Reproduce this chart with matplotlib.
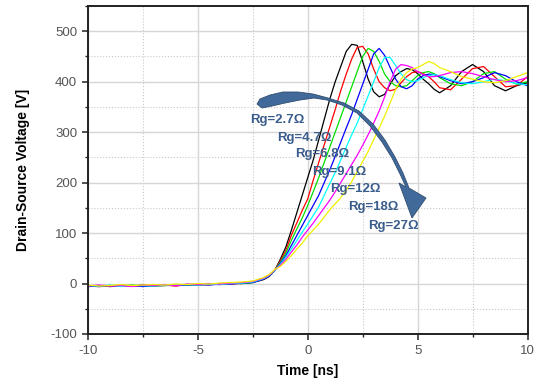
import matplotlib
matplotlib.use("Agg")
import matplotlib.pyplot as plt
from matplotlib.patches import Polygon
from matplotlib.ticker import MultipleLocator

plt.rcParams['font.family'] = ['Liberation Sans', 'DejaVu Sans']
plt.rcParams['axes.unicode_minus'] = False

# time axis [ns]
time_ns = [-10, -9.5, -9, -8.5, -8, -7.5, -7, -6.5, -6, -5.5, -5, -4.5, -4, -3.5, -3, -2.5,
           -2, -1.75, -1.5, -1.25, -1, -0.75, -0.5, -0.25, 0, 0.25, 0.5, 0.75, 1, 1.25, 1.5, 1.75,
           2, 2.25, 2.5, 2.75, 3, 3.25, 3.5, 3.75, 4, 4.25, 4.5, 4.75, 5, 5.25, 5.5, 5.75,
           6, 6.5, 7, 7.5, 8, 8.5, 9, 9.5, 10]

# drain-source voltage [V]
v_rg2_7 = [-5, -4, -6, -4, -5, -3, -5, -4, -3, -2, -3, -1, -2, 0, 0, 2,
           8, 14, 26, 48, 72, 105, 140, 175, 210, 245, 285, 325, 365, 400, 430, 460,
           474, 472, 440, 405, 380, 370, 375, 395, 412, 420, 426, 424, 416, 405, 396, 385,
           378, 392, 420, 434, 420, 392, 382, 392, 398]
v_rg4_7 = [-4, -6, -5, -3, -5, -4, -4, -3, -5, -2, -2, -2, 0, -1, 1, 3,
           9, 15, 27, 45, 65, 95, 120, 145, 168, 205, 240, 275, 310, 345, 382, 415,
           445, 468, 470, 455, 425, 400, 388, 382, 385, 398, 410, 418, 420, 416, 410, 400,
           388, 384, 405, 426, 430, 410, 390, 392, 410]
v_rg6_8 = [-6, -5, -4, -5, -3, -5, -3, -4, -2, -3, -1, -2, -1, 1, 0, 2,
           10, 16, 27, 42, 60, 85, 108, 130, 155, 182, 210, 240, 270, 300, 330, 360,
           390, 420, 450, 466, 460, 440, 415, 400, 392, 390, 392, 402, 412, 418, 420, 416,
           408, 396, 392, 400, 416, 420, 405, 395, 400]
v_rg9_1 = [-5, -6, -4, -5, -4, -6, -4, -3, -4, -3, -2, -3, -1, -1, 1, 2,
           9, 15, 26, 40, 55, 75, 95, 115, 135, 155, 175, 200, 225, 252, 280, 308,
           335, 365, 395, 425, 455, 466, 452, 428, 405, 390, 386, 392, 405, 412, 415, 414,
           410, 402, 396, 400, 408, 418, 412, 400, 392]
v_rg12 = [-4, -5, -3, -6, -4, -4, -5, -3, -3, -2, -3, -1, -2, 0, 1, 3,
          10, 16, 26, 38, 52, 68, 85, 102, 118, 135, 152, 175, 198, 220, 245, 270,
          295, 318, 345, 372, 400, 428, 448, 448, 432, 415, 404, 400, 402, 408, 412, 414,
          412, 404, 398, 396, 400, 405, 402, 396, 394]
v_rg18 = [-5, -3, -5, -4, -6, -3, -4, -2, -4, -1, -2, 0, -1, 1, 2, 4,
          11, 17, 27, 36, 48, 62, 76, 92, 106, 120, 135, 150, 165, 182, 200, 218,
          236, 254, 274, 295, 318, 342, 370, 400, 425, 434, 432, 428, 420, 414, 410, 410,
          412, 418, 420, 416, 410, 404, 400, 402, 408]
v_rg27 = [-3, -5, -4, -2, -4, -3, -2, -3, -1, -2, 0, -1, 1, 2, 3, 5,
          12, 18, 28, 34, 44, 55, 68, 80, 95, 106, 118, 132, 146, 158, 170, 185,
          202, 222, 242, 262, 285, 308, 332, 358, 385, 405, 418, 425, 428, 434, 440, 436,
          428, 420, 410, 405, 400, 398, 402, 410, 418]

series = [v_rg2_7, v_rg4_7, v_rg6_8, v_rg9_1, v_rg12, v_rg18, v_rg27]
colors = ['black', '#ff0000', '#00e000', '#0000ff', '#00ffff', '#ff00ff', '#f0f000']
labels = ['Rg=2.7Ω', 'Rg=4.7Ω', 'Rg=6.8Ω', 'Rg=9.1Ω', 'Rg=12Ω', 'Rg=18Ω', 'Rg=27Ω']

W, H = 536, 385
fig = plt.figure(figsize=(W / 100, H / 100), dpi=100)
ax = fig.add_axes([88 / W, 1 - 334 / H, 439.5 / W, 328 / H])

for v, c in zip(series, colors):
    ax.plot(time_ns, v, color=c, lw=0.9)

ax.set_xlim(-10, 10)
ax.set_ylim(-100, 550)
ax.xaxis.set_major_locator(MultipleLocator(5))
ax.xaxis.set_minor_locator(MultipleLocator(2.5))
ax.yaxis.set_major_locator(MultipleLocator(100))
ax.yaxis.set_minor_locator(MultipleLocator(50))
ax.set_yticks(range(-100, 501, 100))

ax.grid(which='major', color='#d6d6d6', lw=1.0, ls='-')
ax.grid(which='minor', color='#c8c8c8', lw=0.8, ls=':')
ax.set_axisbelow(True)

for s in ax.spines.values():
    s.set_linewidth(1.4)
    s.set_color('#222222')
ax.tick_params(which='major', length=4.3, width=1.1, colors='#222222',
               labelcolor='#555555', labelsize=9.5, pad=3.5)
ax.tick_params(which='minor', length=2.3, width=1.0, colors='#222222')

ax.set_xlabel('Time [ns]', fontsize=10, fontweight='bold', labelpad=5)
ax.set_ylabel('Drain-Source Voltage [V]', fontsize=10, fontweight='bold', labelpad=15)

# curved arrow (pixel outline): thick tail on the left, thin shaft, head at lower right
outer = [(260, 99), (270, 95), (283, 92), (298, 92), (313, 94), (328, 98), (344, 103),
         (359, 111), (373, 124), (385, 140), (395, 157), (403, 173), (409, 188)]
head = [(426, 198), (412, 218), (399, 183)]
inner = [(406, 187), (400, 174), (392, 158), (382, 142), (370, 126), (357, 113), (342, 105),
         (327, 100), (314, 98), (300, 100), (285, 103), (272, 106), (262, 108), (257, 104)]
pts = [(x / W, 1 - y / H) for x, y in outer + head + inner]
fig.patches.append(Polygon(pts, closed=True, transform=fig.transFigure,
                           facecolor='#41699a', edgecolor='#2e4c70', lw=0.6, zorder=5))

label_pos = [(250, 120), (277, 138), (295, 154), (312, 172), (330, 189), (348, 207), (368, 226)]
for (x, y), txt in zip(label_pos, labels):
    fig.text(x / W, 1 - y / H, txt, ha='left', va='center', fontsize=9.5,
             fontweight='bold', color='#3b5d8c', zorder=6)

fig.savefig('out.png', dpi=100)
